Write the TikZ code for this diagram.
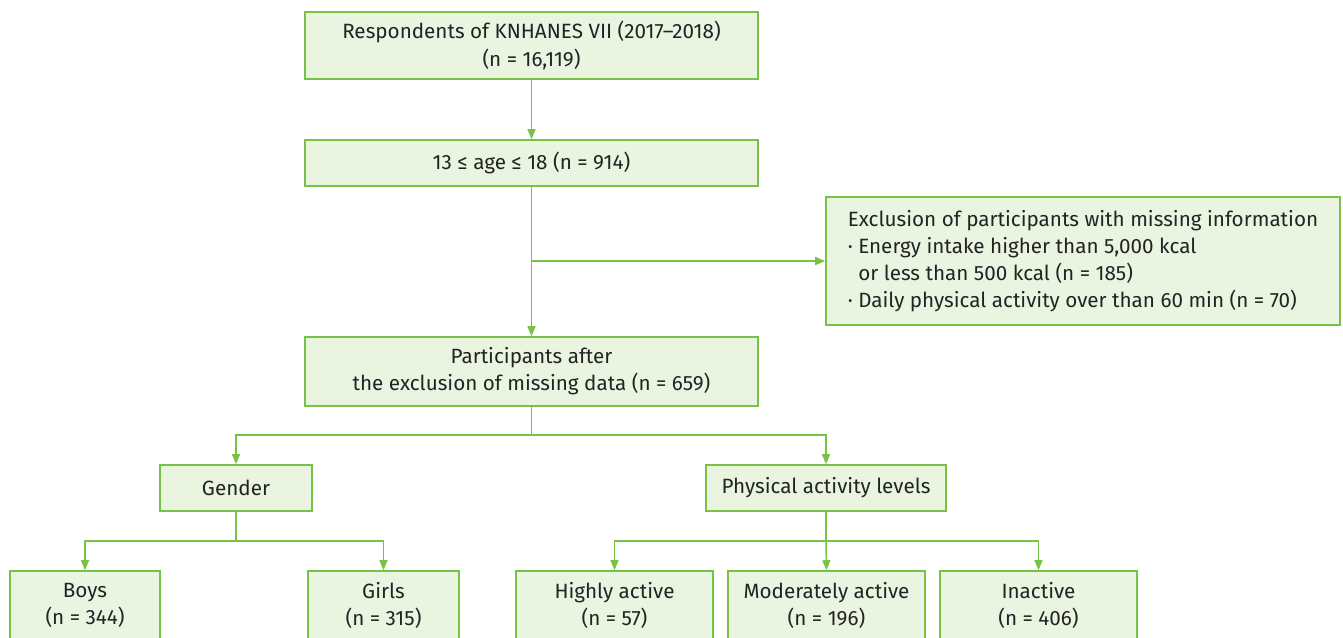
\documentclass[tikz,border=0pt]{standalone}
\usepackage{fontspec}
\setmainfont{Fira Sans}
\usetikzlibrary{arrows.meta}
\definecolor{boxline}{RGB}{120,194,70}
\definecolor{boxfill}{RGB}{233,245,225}
\definecolor{boxtext}{RGB}{35,35,35}
\tikzset{
  flowbox/.style={draw=boxline, fill=boxfill, line width=1.2pt, text=boxtext,
    align=center, inner sep=0pt, font=\fontsize{15.5}{20.3}\selectfont},
  flowarr/.style={draw=boxline, line width=1.1pt, -{Triangle[length=7.5pt,width=6pt]}},
  flowline/.style={draw=boxline, line width=1.1pt}
}
\begin{document}
\begin{tikzpicture}[x=0.75pt,y=0.75pt,yscale=-1,xscale=1]
\path[use as bounding box, clip] (0,0) rectangle (1343,637);

% Boxes of the main column
\node[flowbox, minimum width=339.75pt, minimum height=50.25pt] (resp) at (531.5,45.5) {Respondents of KNHANES VII (2017–2018)\\(n = 16,119)};
\node[flowbox, minimum width=339.75pt, minimum height=34.5pt] (age) at (531.5,163) {13 ≤ age ≤ 18 (n = 914)};
\node[flowbox, minimum width=339.75pt, minimum height=51.75pt] (part) at (531.5,371.5) {Participants after\\the exclusion of missing data (n = 659)};
% Exclusion box
\node[flowbox, minimum width=385.5pt, minimum height=96pt, align=left] (excl) at (1083,261) {Exclusion of participants with missing information\\· Energy intake higher than 5,000 kcal\\\phantom{· }or less than 500 kcal (n = 185)\\· Daily physical activity over than 60 min (n = 70)};

% Second level
\node[flowbox, minimum width=114pt, minimum height=34.5pt] (gender) at (236,488) {Gender};
\node[flowbox, minimum width=180pt, minimum height=34.5pt] (pal) at (826,488) {Physical activity levels};

% Third level
\node[flowbox, minimum width=112.5pt, minimum height=51.75pt] (boys) at (85,605.5) {Boys\\(n = 344)};
\node[flowbox, minimum width=113.25pt, minimum height=51.75pt] (girls) at (383.5,605.5) {Girls\\(n = 315)};
\node[flowbox, minimum width=147.75pt, minimum height=51.75pt] (high) at (614.5,605.5) {Highly active\\(n = 57)};
\node[flowbox, minimum width=147.75pt, minimum height=51.75pt] (moder) at (826.5,605.5) {Moderately active\\(n = 196)};
\node[flowbox, minimum width=147.75pt, minimum height=51.75pt] (inact) at (1038.5,605.5) {Inactive\\(n = 406)};

% Branch points
\coordinate (splitexcl) at (age.south |- excl.west);
\coordinate (splitpart) at (531.5,435);
\coordinate (splitgen) at (236,541);
\coordinate (splitpal) at (826,541);

% Connectors
\draw[flowarr] (resp.south) -- (age.north);
\draw[flowarr] (age.south) -- (part.north);
\draw[flowarr] (splitexcl) -- (excl.west);
\draw[flowline] (part.south) -- (splitpart);
\draw[flowarr] (splitpart) -| (gender.north);
\draw[flowarr] (splitpart) -| (pal.north);
\draw[flowline] (gender.south) -- (splitgen);
\draw[flowarr] (splitgen) -| (boys.north);
\draw[flowarr] (splitgen) -| (girls.north);
\draw[flowline] (pal.south) -- (splitpal);
\draw[flowarr] (splitpal) -| (high.north);
\draw[flowarr] (splitpal) -- (moder.north);
\draw[flowarr] (splitpal) -| (inact.north);

\end{tikzpicture}
\end{document}
